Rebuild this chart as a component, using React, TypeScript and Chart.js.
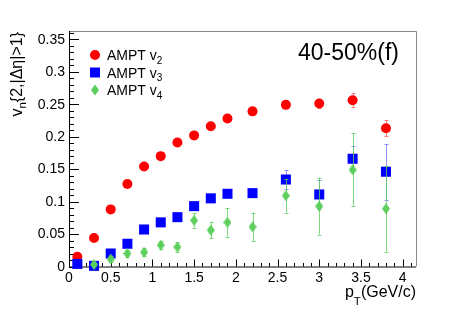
import React, { useEffect, useRef } from "react";
import { Chart, registerables } from "chart.js";

Chart.register(...registerables);

const ptV2 = [0.1, 0.3, 0.5, 0.7, 0.9, 1.1, 1.3, 1.5, 1.7, 1.9, 2.2, 2.6, 3.0, 3.4, 3.8];
const v2 = [0.015, 0.044, 0.088, 0.127, 0.154, 0.17, 0.191, 0.202, 0.216, 0.228, 0.239, 0.249, 0.251, 0.256, 0.213];
const v2Err = [0.001, 0.001, 0.001, 0.001, 0.001, 0.001, 0.001, 0.002, 0.002, 0.002, 0.003, 0.004, 0.007, 0.011, 0.012];

const ptV3 = [0.1, 0.3, 0.5, 0.7, 0.9, 1.1, 1.3, 1.5, 1.7, 1.9, 2.2, 2.6, 3.0, 3.4, 3.8];
const v3 = [0.004, 0.001, 0.02, 0.035, 0.057, 0.068, 0.076, 0.093, 0.105, 0.112, 0.113, 0.134, 0.111, 0.166, 0.146];
const v3Err = [0.001, 0.001, 0.001, 0.002, 0.002, 0.002, 0.002, 0.003, 0.004, 0.004, 0.006, 0.014, 0.022, 0.019, 0.043];

const ptV4 = [0.3, 0.5, 0.7, 0.9, 1.1, 1.3, 1.5, 1.7, 1.9, 2.2, 2.6, 3.0, 3.4, 3.8];
const v4 = [0.003, 0.0115, 0.02, 0.022, 0.033, 0.03, 0.071, 0.056, 0.068, 0.061, 0.109, 0.093, 0.149, 0.089];
const v4Err = [0.003, 0.004, 0.005, 0.006, 0.006, 0.007, 0.011, 0.012, 0.022, 0.022, 0.026, 0.044, 0.056, 0.066];

const xTickLabels = ["0", "0.5", "1", "1.5", "2", "2.5", "3", "3.5", "4"];
const yTickLabels = ["0", "0.05", "0.1", "0.15", "0.2", "0.25", "0.3", "0.35"];
const seriesNames = ["2", "3", "4"];

const FONT = "'Liberation Sans', Arial, Helvetica, sans-serif";
const RED = "#ff0000";
const BLUE = "#0000ff";
const GREEN = "#5ccf5c";

function makeDiamond(color: string) {
  const c = document.createElement("canvas");
  c.width = 8;
  c.height = 11;
  const g = c.getContext("2d")!;
  g.fillStyle = color;
  g.beginPath();
  g.moveTo(4, 0);
  g.lineTo(8, 5.5);
  g.lineTo(4, 11);
  g.lineTo(0, 5.5);
  g.closePath();
  g.fill();
  return c;
}

type Part = { t: string; sub?: boolean };

function richWidth(ctx: CanvasRenderingContext2D, parts: Part[], size: number, subSize: number) {
  let w = 0;
  for (const p of parts) {
    ctx.font = `${p.sub ? subSize : size}px ${FONT}`;
    w += ctx.measureText(p.t).width;
  }
  return w;
}

function drawRich(ctx: CanvasRenderingContext2D, parts: Part[], x: number, y: number, size: number, subSize: number, subOff: number) {
  let cx = x;
  ctx.textAlign = "left";
  ctx.textBaseline = "alphabetic";
  for (const p of parts) {
    ctx.font = `${p.sub ? subSize : size}px ${FONT}`;
    ctx.fillText(p.t, cx, p.sub ? y + subOff : y);
    cx += ctx.measureText(p.t).width;
  }
}

const errs = [v2Err, v3Err, v4Err];
const errColors = ["rgba(255,90,90,0.75)", "rgba(110,110,255,0.75)", "rgba(92,207,92,0.8)"];

const overlay = {
  id: "overlay",
  beforeDatasetsDraw(chart: any) {
    const ctx: CanvasRenderingContext2D = chart.ctx;
    const xs = chart.scales.x;
    const ys = chart.scales.y;
    const a = chart.chartArea;
    ctx.save();
    // frame (top/right grey)
    ctx.strokeStyle = "#888888";
    ctx.lineWidth = 1;
    ctx.beginPath();
    ctx.moveTo(a.left, a.top + 0.5);
    ctx.lineTo(a.right + 0.5, a.top + 0.5);
    ctx.lineTo(a.right + 0.5, a.bottom);
    ctx.stroke();
    // axes
    ctx.strokeStyle = "#000000";
    ctx.beginPath();
    ctx.moveTo(a.left + 0.5, a.top);
    ctx.lineTo(a.left + 0.5, a.bottom);
    ctx.moveTo(a.left, a.bottom + 0.5);
    ctx.lineTo(a.right, a.bottom + 0.5);
    ctx.stroke();
    // x ticks
    ctx.beginPath();
    for (let i = 0; i <= Math.floor(xs.max * 10 + 1e-6); i++) {
      const v = i / 10;
      const px = Math.round(xs.getPixelForValue(v)) + 0.5;
      const len = i % 5 === 0 ? 7 : 3.5;
      ctx.moveTo(px, a.bottom);
      ctx.lineTo(px, a.bottom - len);
    }
    // y ticks
    for (let i = 0; i <= Math.floor(ys.max * 100 + 1e-6); i++) {
      const v = i / 100;
      const py = Math.round(ys.getPixelForValue(v)) + 0.5;
      const len = i % 5 === 0 ? 10 : 5;
      ctx.moveTo(a.left, py);
      ctx.lineTo(a.left + len, py);
    }
    ctx.stroke();
    // tick labels
    ctx.fillStyle = "#000";
    ctx.font = `14px ${FONT}`;
    ctx.textAlign = "center";
    ctx.textBaseline = "alphabetic";
    for (const l of xTickLabels) {
      ctx.fillText(l, xs.getPixelForValue(Number(l)), a.bottom + 15.5);
    }
    ctx.textAlign = "right";
    ctx.textBaseline = "middle";
    for (const l of yTickLabels) {
      ctx.fillText(l, a.left - 4, ys.getPixelForValue(Number(l)) + 0.5);
    }
    // axis titles
    const xt: Part[] = [{ t: "p" }, { t: "T", sub: true }, { t: "(GeV/c)" }];
    const xw = richWidth(ctx, xt, 16, 11.5);
    ctx.fillStyle = "#000";
    drawRich(ctx, xt, a.right - xw, 297, 16, 11.5, 8);
    const yt: Part[] = [{ t: "v" }, { t: "n", sub: true }, { t: "{2,|Δη|>1}" }];
    const yw = richWidth(ctx, yt, 16, 11.5);
    ctx.save();
    ctx.translate(22, a.top + 1);
    ctx.rotate(-Math.PI / 2);
    drawRich(ctx, yt, -yw, 0, 16, 11.5, 4);
    ctx.restore();
    ctx.restore();
  },
  beforeDatasetDraw(chart: any, args: any) {
    const ctx: CanvasRenderingContext2D = chart.ctx;
    const xs = chart.scales.x;
    const ys = chart.scales.y;
    const ds = chart.data.datasets[args.index];
    const e = errs[args.index];
    ctx.save();
    ctx.strokeStyle = errColors[args.index];
    ctx.lineWidth = 1;
    ctx.beginPath();
    ds.data.forEach((p: any, i: number) => {
      const px = Math.round(xs.getPixelForValue(p.x)) + 0.5;
      const y1 = ys.getPixelForValue(p.y + e[i]);
      const y0 = ys.getPixelForValue(Math.max(0, p.y - e[i]));
      ctx.moveTo(px, y0);
      ctx.lineTo(px, y1);
      ctx.moveTo(px - 2, Math.round(y1) + 0.5);
      ctx.lineTo(px + 2, Math.round(y1) + 0.5);
      if (p.y - e[i] > 0) {
        ctx.moveTo(px - 2, Math.round(y0) + 0.5);
        ctx.lineTo(px + 2, Math.round(y0) + 0.5);
      }
    });
    ctx.stroke();
    ctx.restore();
  },
  afterDraw(chart: any) {
    const ctx: CanvasRenderingContext2D = chart.ctx;
    ctx.save();
    ctx.fillStyle = "#000";
    ctx.font = `23px ${FONT}`;
    ctx.textAlign = "right";
    ctx.textBaseline = "alphabetic";
    ctx.fillText("40-50%(f)", 399, 59.5);
    // legend
    const rows = [55, 72.5, 90];
    const colors = [RED, BLUE, GREEN];
    rows.forEach((y, i) => {
      ctx.fillStyle = colors[i];
      if (i === 0) {
        ctx.beginPath();
        ctx.arc(95, y, 5, 0, Math.PI * 2);
        ctx.fill();
      } else if (i === 1) {
        ctx.fillRect(90, y - 5, 10, 10);
      } else {
        ctx.beginPath();
        ctx.moveTo(95, y - 5.5);
        ctx.lineTo(99, y);
        ctx.lineTo(95, y + 5.5);
        ctx.lineTo(91, y);
        ctx.closePath();
        ctx.fill();
      }
      ctx.fillStyle = "#000";
      drawRich(ctx, [{ t: "AMPT v" }, { t: seriesNames[i], sub: true }], 107, y + 5, 14, 10, 3.5);
    });
    ctx.restore();
  },
};

export default function App() {
  const ref = useRef<HTMLCanvasElement>(null);
  useEffect(() => {
    document.body.style.margin = "0";
    const diamond = makeDiamond(GREEN);
    const chart = new Chart(ref.current!, {
      type: "scatter",
      data: {
        datasets: [
          {
            label: "AMPT v2",
            data: ptV2.map((x, i) => ({ x, y: v2[i] })),
            pointStyle: "circle",
            pointRadius: 5,
            backgroundColor: RED,
            borderWidth: 0,
            order: 2,
            clip: false,
          } as any,
          {
            label: "AMPT v3",
            data: ptV3.map((x, i) => ({ x, y: v3[i] })),
            pointStyle: "rect",
            pointRadius: 7.1,
            backgroundColor: BLUE,
            borderWidth: 0,
            order: 1,
            clip: false,
          },
          {
            label: "AMPT v4",
            data: ptV4.map((x, i) => ({ x, y: v4[i] })),
            pointStyle: diamond,
            pointRadius: 5,
            backgroundColor: GREEN,
            borderWidth: 0,
            order: 0,
            clip: false,
          },
        ],
      },
      options: {
        animation: false,
        responsive: false,
        events: [],
        layout: { padding: { left: 69, right: 47, top: 31, bottom: 47.5 } },
        plugins: { legend: { display: false }, tooltip: { enabled: false } },
        scales: {
          x: { type: "linear", min: 0, max: 4.16, display: false },
          y: { type: "linear", min: 0, max: 0.3628, display: false },
        },
      },
      plugins: [overlay],
    });
    return () => chart.destroy();
  }, []);
  return (
    <div style={{ position: "absolute", left: 0, top: 0, width: 463, height: 314, background: "#fff" }}>
      <canvas ref={ref} width={463} height={314} />
    </div>
  );
}
